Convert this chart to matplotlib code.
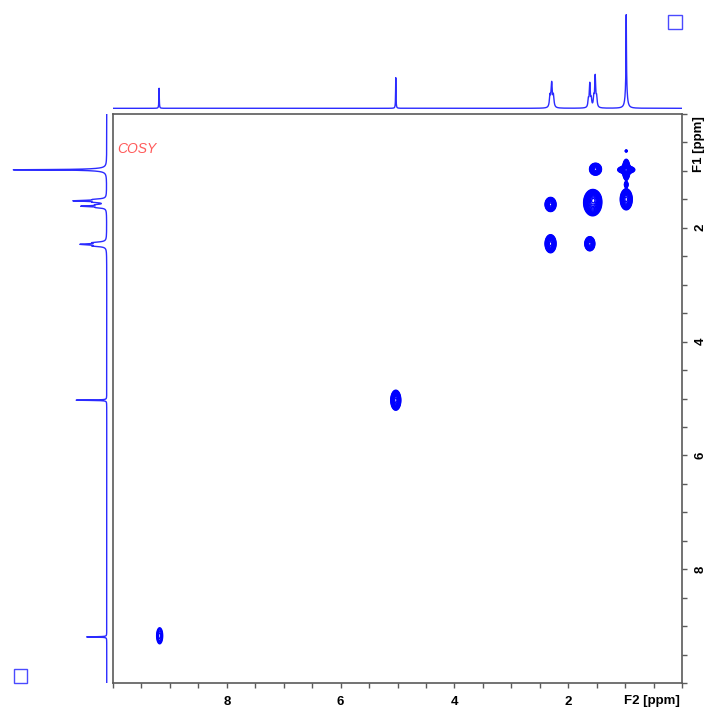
import numpy as np
import matplotlib
matplotlib.use("Agg")
import matplotlib.pyplot as plt
from matplotlib.patches import Rectangle
from matplotlib.ticker import FixedLocator, FuncFormatter

plt.rcParams['font.family'] = ['Liberation Sans', 'DejaVu Sans']

# 1D proton spectrum, peak list (ppm, height, half width)
line_ppm = [9.19, 5.03, 2.32, 2.29, 2.26, 1.645, 1.62, 1.595, 1.55, 1.525, 1.50, 0.98, 0.98]
line_height = [0.214, 0.327, 0.12, 0.255, 0.12, 0.08, 0.25, 0.08, 0.10, 0.33, 0.10, 0.73, 0.27]
line_hwhm = [0.004, 0.004, 0.012, 0.012, 0.012, 0.01, 0.01, 0.01, 0.01, 0.01, 0.01, 0.004, 0.018]

# 2D COSY cross peaks (F2 ppm, F1 ppm, sigma F2, sigma F1, amplitude)
cross_f2 = [9.18, 5.03, 2.31, 2.31, 1.62, 1.57, 1.55, 1.52, 0.98, 0.98, 0.98, 0.98, 0.98]
cross_f1 = [9.17, 5.03, 2.28, 1.59, 2.28, 1.56, 1.50, 0.97, 0.98, 0.98, 1.50, 1.24, 0.65]
cross_s2 = [0.039, 0.041, 0.045, 0.045, 0.041, 0.074, 0.05, 0.049, 0.07, 0.03, 0.049, 0.02, 0.015]
cross_s1 = [0.104, 0.082, 0.074, 0.058, 0.058, 0.107, 0.06, 0.049, 0.03, 0.086, 0.086, 0.03, 0.015]
cross_amp = [0.25, 1.0, 1.0, 1.0, 1.0, 1.0, 0.6, 1.0, 1.0, 1.0, 1.0, 0.3, 0.2]

tick_pos = np.arange(0, 10.01, 0.5)
tick_labels = [2, 4, 6, 8]


def spectrum(x):
    y = np.zeros_like(x)
    for p, h, w in zip(line_ppm, line_height, line_hwhm):
        y += h * w**2 / ((x - p)**2 + w**2)
    return y


W, H = 707, 709
fig = plt.figure(figsize=(W / 100, H / 100), dpi=100)


def px_axes(l, t, r, b):
    return fig.add_axes([l / W, 1 - b / H, (r - l) / W, (b - t) / H])


ax = px_axes(113, 114, 682, 683)
ax_top = px_axes(113, 10, 682, 110)
ax_left = px_axes(8, 114, 110, 683)

blue_line = "#2b2bff"

# projections
xs = np.linspace(0, 10, 20001)
sp = spectrum(xs)
ax_top.plot(xs, sp, color=blue_line, lw=1.0)
ax_top.set_xlim(10, 0)
ax_top.set_ylim(-0.018, 1.05)
ax_top.axis("off")

ax_left.plot(sp, xs, color=blue_line, lw=1.0)
ax_left.set_xlim(1.057, -0.035)
ax_left.set_ylim(10, 0)
ax_left.axis("off")

# 2D contour
g = np.arange(0, 10.0001, 0.005)
Z = np.zeros((g.size, g.size))
for x0, y0, sx, sy, a in zip(cross_f2, cross_f1, cross_s2, cross_s1, cross_amp):
    gx = np.exp(-0.5 * ((g - x0) / sx)**2)
    gy = np.exp(-0.5 * ((g - y0) / sy)**2)
    Z += a * np.outer(gy, gx)
levels = 0.1 * 1.22 ** np.arange(0, 16)
ax.contour(g, g, Z, levels=levels, colors="#0000ff", linewidths=1.0)

ax.set_xlim(10, 0)
ax.set_ylim(10, 0)
for s in ax.spines.values():
    s.set_color("#5a5a5a")
    s.set_linewidth(1.2)

ax.yaxis.tick_right()
ax.xaxis.set_major_locator(FixedLocator(tick_pos))
ax.yaxis.set_major_locator(FixedLocator(tick_pos))
fmt = FuncFormatter(lambda v, pos: f"{v:.0f}" if round(v, 3) in tick_labels else "")
ax.xaxis.set_major_formatter(fmt)
ax.yaxis.set_major_formatter(fmt)
ax.tick_params(axis="both", direction="out", length=3.3, width=1.0, color="#5a5a5a",
               labelsize=9.5, pad=6)
for lab in ax.get_xticklabels() + ax.get_yticklabels():
    lab.set_fontweight("bold")
for lab in ax.get_yticklabels():
    lab.set_rotation(90)
    lab.set_va("center")

fig.text(680 / W, 1 - 701 / H, "F2 [ppm]", ha="right", va="center", fontsize=9.5,
         fontweight="bold")
fig.text(699 / W, 1 - 116 / H, "F1 [ppm]", ha="center", va="top", fontsize=9.5,
         fontweight="bold", rotation=90)
fig.text(117 / W, 1 - 149 / H, "COSY", ha="left", va="center", fontsize=10,
         style="italic", color="#ff5a5a")

# corner markers
fig.patches.append(Rectangle((668 / W, 1 - 29 / H), 14 / W, 14 / H, fill=False,
                             edgecolor="#4a4aff", lw=1.0, transform=fig.transFigure))
fig.patches.append(Rectangle((14 / W, 1 - 683 / H), 13 / W, 14 / H, fill=False,
                             edgecolor="#4a4aff", lw=1.0, transform=fig.transFigure))

fig.savefig("out.png", dpi=100)
